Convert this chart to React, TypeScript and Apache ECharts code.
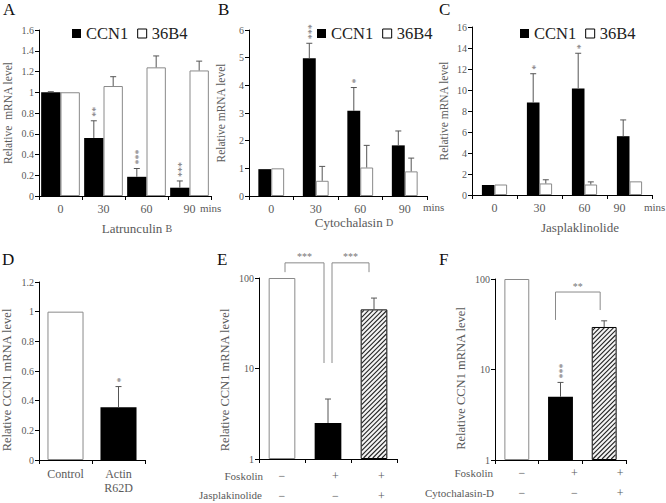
import React, { useEffect, useRef } from 'react';
import * as echarts from 'echarts';

const FONT = 'Liberation Serif';

// ---------- DATA ----------
const timeCats = ['0', '30', '60', '90'];

// Panel A – Latrunculin B
const aCCN1 = [1.0, 0.56, 0.185, 0.08];
const aCCN1Err = [1.005, 0.725, 0.265, 0.145];
const a36B4 = [1.0, 1.06, 1.24, 1.21];
const a36B4Err = [1.0, 1.15, 1.35, 1.3];
const aStars = ['', '**', '***', '***'];

// Panel B – Cytochalasin D
const bCCN1 = [0.97, 4.98, 3.08, 1.83];
const bCCN1Err = [0.97, 5.52, 3.92, 2.35];
const b36B4 = [1.0, 0.55, 1.03, 0.89];
const b36B4Err = [1.0, 1.07, 1.83, 1.37];
const bStars = ['', '***', '*', ''];

// Panel C – Jasplaklinolide
const cCCN1 = [0.95, 8.8, 10.15, 5.6];
const cCCN1Err = [0.95, 11.55, 13.5, 7.15];
const c36B4 = [1.0, 1.1, 1.0, 1.3];
const c36B4Err = [1.0, 1.45, 1.25, 1.3];
const cStars = ['', '*', '*', ''];

// Panel D – Actin R62D
const dCats = ['Control', 'Actin\nR62D'];
const dValues = [1.0, 0.355];
const dErr = [1.0, 0.495];
const dStars = ['', '*'];

// Panel E – Foskolin / Jasplakinolide (log)
const eCats = ['control', 'foskolin', 'foskolin+jasplakinolide'];
const eValues = [100, 2.5, 45];
const eErr = [100, 4.6, 60];
const eStars = ['', '', ''];
const eHatched = [false, false, true];
const eFoskolin = ['\u2212', '+', '+'];
const eJasp = ['\u2212', '\u2212', '+'];
const eBrackets = [
  { from: 0, fromVal: 116, to: 1, toVal: 11.5, top: 147, label: '***' },
  { from: 1, fromVal: 11.5, to: 2, toVal: 116, top: 147, label: '***' },
];

// Panel F – Foskolin / Cytochalasin-D (log)
const fCats = ['control', 'foskolin', 'foskolin+cytochalasin'];
const fValues = [100, 5.0, 29.5];
const fErr = [100, 7.2, 34.5];
const fStars = ['', '***', ''];
const fHatched = [false, false, true];
const fFoskolin = ['\u2212', '+', '+'];
const fCyto = ['\u2212', '\u2212', '+'];
const fBrackets = [{ from: 1, fromVal: 35.3, to: 2, toVal: 45.4, top: 71.8, label: '**' }];

// ---------- LAYOUT ----------
const GRIDS = [
  { left: 39, top: 30, width: 172, height: 166 },
  { left: 249, top: 30, width: 178, height: 166 },
  { left: 472, top: 27, width: 180, height: 168 },
  { left: 39, top: 282, width: 106, height: 178 },
  { left: 259, top: 278, width: 138, height: 181 },
  { left: 495, top: 279, width: 131, height: 181 },
];
const BAR_PCT = [0.45, 0.29, 0.28, 0.68, 0.58, 0.57];
const E_NUDGE = [[3, -4], [4, -5]];
const F_NUDGE = [[-5, -4]];
const E_SIGN_PAD = [0, 15, 15];
const F_SIGN_PAD = [10, 28, 32];
const HATCH_STEP = 4.6;

const TXT = '#5a5a5a';
const STAR = '#777';

function errSeries(gi: number, vals: number[], errs: number[], stars: string[], shift: number) {
  const pct = BAR_PCT[gi];
  return {
    type: 'custom',
    xAxisIndex: gi,
    yAxisIndex: gi,
    silent: true,
    z: 5,
    clip: false,
    data: vals.map((v, i) => [i, v, errs[i]]),
    encode: { x: 0, y: [1, 2] },
    renderItem: (params: any, api: any) => {
      const i = api.value(0);
      const v = api.value(1);
      const e = api.value(2);
      const base = api.coord([i, v]);
      const band = api.size([1, 0], [i, v])[0];
      const x = base[0] + shift * band * pct;
      const yv = base[1];
      const ye = api.coord([i, e])[1];
      const children: any[] = [];
      if (ye < yv - 0.5) {
        children.push({ type: 'line', shape: { x1: x, y1: yv, x2: x, y2: ye }, style: { stroke: '#555', lineWidth: 1 } });
        children.push({ type: 'line', shape: { x1: x - 3, y1: ye, x2: x + 3, y2: ye }, style: { stroke: '#555', lineWidth: 1 } });
      }
      const s = stars[params.dataIndex];
      if (s) {
        const len = s.length * 5;
        children.push({
          type: 'text',
          x: x + 2,
          y: ye - 4 - len / 2,
          rotation: Math.PI / 2,
          style: {
            text: s,
            fill: STAR,
            font: `10px ${FONT}`,
            textAlign: 'center',
            textVerticalAlign: 'middle',
            align: 'center',
            verticalAlign: 'middle',
          },
        });
      }
      return { type: 'group', children };
    },
  };
}

// diagonal "/" hatching drawn inside the hatched bars
function hatchSeries(gi: number, vals: number[], hatched: boolean[], minVal: number) {
  const pct = BAR_PCT[gi];
  return {
    type: 'custom',
    xAxisIndex: gi,
    yAxisIndex: gi,
    silent: true,
    z: 4,
    clip: false,
    data: vals.map((v, i) => [i, v, minVal]),
    encode: { x: 0, y: [1, 2] },
    renderItem: (params: any, api: any) => {
      if (!hatched[params.dataIndex]) return { type: 'group', children: [] };
      const i = api.value(0);
      const top = api.coord([i, api.value(1)]);
      const bottom = api.coord([i, api.value(2)]);
      const band = api.size([1, 0], [i, api.value(1)])[0];
      const w = band * pct;
      const x0 = top[0] - w / 2 + 1;
      const x1 = top[0] + w / 2 - 1;
      const yT = top[1] + 1;
      const yB = bottom[1] - 1;
      const children: any[] = [];
      for (let c = x0 + yT + HATCH_STEP / 2; c < x1 + yB; c += HATCH_STEP) {
        const xa = Math.max(x0, c - yB);
        const xb = Math.min(x1, c - yT);
        if (xb <= xa) continue;
        children.push({
          type: 'line',
          shape: { x1: xa, y1: c - xa, x2: xb, y2: c - xb },
          style: { stroke: '#222', lineWidth: 1.1 },
        });
      }
      return { type: 'group', children };
    },
  };
}

function bracketSeries(gi: number, brackets: any[], nudge: number[][]) {
  return {
    type: 'custom',
    xAxisIndex: gi,
    yAxisIndex: gi,
    silent: true,
    z: 6,
    clip: false,
    data: brackets.map((b) => [b.from, b.fromVal, b.to, b.toVal, b.top]),
    encode: { x: [0, 2], y: [1, 3, 4] },
    renderItem: (params: any, api: any) => {
      const n = nudge[params.dataIndex];
      const top = api.value(4);
      const p1 = api.coord([api.value(0), api.value(1)]);
      const p2 = api.coord([api.value(2), api.value(3)]);
      const yTop = api.coord([api.value(0), top])[1];
      const x1 = p1[0] + n[0];
      const x2 = p2[0] + n[1];
      return {
        type: 'group',
        children: [
          {
            type: 'polyline',
            shape: { points: [[x1, p1[1]], [x1, yTop], [x2, yTop], [x2, p2[1]]] },
            style: { stroke: '#8a8a8a', lineWidth: 1, fill: 'none' },
          },
          {
            type: 'text',
            x: (x1 + x2) / 2,
            y: yTop - 6,
            style: {
              text: brackets[params.dataIndex].label,
              fill: STAR,
              font: `10px ${FONT}`,
              textAlign: 'center',
              textVerticalAlign: 'middle',
              align: 'center',
              verticalAlign: 'middle',
            },
          },
        ],
      };
    },
  };
}

function buildOption(): any {
  const axisText = { fontFamily: FONT, color: TXT };
  const mkX = (gi: number, data: string[], labelExtra: any = {}, extra: any = {}) => ({
    type: 'category',
    gridIndex: gi,
    data,
    axisLine: { show: true, onZero: false, lineStyle: { color: '#000', width: 1 } },
    axisTick: { show: true, length: 4, interval: 0, lineStyle: { color: '#000' } },
    axisLabel: { ...axisText, fontSize: 12, margin: 7, interval: 0, ...labelExtra },
    splitLine: { show: false },
    ...extra,
  });
  const mkY = (gi: number, extra: any) => ({
    gridIndex: gi,
    axisLine: { show: true, lineStyle: { color: '#000', width: 1 } },
    axisTick: { show: true, length: 4, lineStyle: { color: '#000' } },
    axisLabel: { ...axisText, fontSize: 10, margin: 5 },
    splitLine: { show: false },
    minorTick: { show: false },
    minorSplitLine: { show: false },
    nameLocation: 'middle',
    nameRotate: 90,
    ...extra,
  });
  const xName = (name: string, gap: number, padLeft: number) => ({
    name,
    nameLocation: 'middle',
    nameGap: gap,
    nameTextStyle: { ...axisText, fontSize: 13, padding: [0, 0, 0, padLeft], rich: { s: { ...axisText, fontSize: 10 } } },
  });
  const signRich = (pads: number[]) => {
    const r: any = {};
    pads.forEach((p, i) => {
      r['p' + i] = { ...axisText, fontSize: 12, lineHeight: 20, padding: [0, 0, 0, p] };
    });
    return r;
  };

  const xAxis = [
    mkX(0, timeCats, {}, xName('Latrunculin {s|B}', 26, 24)),
    mkX(1, timeCats, {}, xName('Cytochalasin {s|D}', 16, 32)),
    mkX(
      2,
      timeCats,
      {
        formatter: (v: string, i: number) => (i === 3 ? '{o|' + v + '}' : v),
        rich: { o: { ...axisText, fontSize: 12, padding: [0, 20, 0, 0] } },
      },
      xName('Jasplaklinolide', 26, 36)
    ),
    mkX(3, dCats, { lineHeight: 14 }),
    mkX(4, eCats, {
      margin: 7,
      formatter: (_v: string, i: number) => `{p${i}|${eFoskolin[i]}}\n{p${i}|${eJasp[i]}}`,
      rich: signRich(E_SIGN_PAD),
    }),
    mkX(5, fCats, {
      margin: 3,
      formatter: (_v: string, i: number) => `{p${i}|${fFoskolin[i]}}\n{p${i}|${fCyto[i]}}`,
      rich: signRich(F_SIGN_PAD),
    }),
  ];

  const yNameSmall = { ...axisText, fontSize: 11.5 };
  const yNameBig = (padRight: number) => ({ ...axisText, fontSize: 12.5, padding: [0, padRight, 0, 0] });
  const yAxis = [
    mkY(0, { type: 'value', min: 0, max: 1.6, interval: 0.2, name: 'Relative  mRNA level', nameGap: 25, nameTextStyle: yNameSmall }),
    mkY(1, { type: 'value', min: 0, max: 6, interval: 1, name: 'Relative mRNA level', nameGap: 22, nameTextStyle: yNameSmall }),
    mkY(2, { type: 'value', min: 0, max: 16, interval: 2, name: 'Relative mRNA level', nameGap: 22, nameTextStyle: yNameSmall }),
    mkY(3, { type: 'value', min: 0, max: 1.2, interval: 0.2, name: 'Relative CCN1 mRNA level', nameGap: 26, nameTextStyle: yNameBig(18) }),
    mkY(4, { type: 'log', logBase: 10, min: 1, max: 100, name: 'Relative CCN1 mRNA level', nameGap: 28, nameTextStyle: yNameBig(23) }),
    mkY(5, { type: 'log', logBase: 10, min: 1, max: 100, name: 'Relative CCN1 mRNA level', nameGap: 28, nameTextStyle: yNameBig(18) }),
  ];

  const blackStyle = { color: '#000', borderColor: '#000', borderWidth: 0 };
  const whiteStyle = { color: '#fff', borderColor: '#8a8a8a', borderWidth: 1 };
  const hatchStyle = { color: '#f4f4f4', borderColor: '#000', borderWidth: 1 };

  const pairBars = (gi: number, ccn1: number[], b4: number[]) => [
    {
      type: 'bar', name: 'CCN1', xAxisIndex: gi, yAxisIndex: gi, data: ccn1,
      barWidth: BAR_PCT[gi] * 100 + '%', barGap: '0%', itemStyle: blackStyle, silent: true,
    },
    {
      type: 'bar', name: '36B4', xAxisIndex: gi, yAxisIndex: gi, data: b4,
      barWidth: BAR_PCT[gi] * 100 + '%', barGap: '0%', itemStyle: whiteStyle, silent: true,
    },
  ];
  const singleBars = (gi: number, name: string, vals: number[], styles: any[]) => ({
    type: 'bar', name, xAxisIndex: gi, yAxisIndex: gi,
    barWidth: BAR_PCT[gi] * 100 + '%', silent: true,
    data: vals.map((v, i) => ({ value: v, itemStyle: styles[i] })),
  });

  const series: any[] = [
    ...pairBars(0, aCCN1, a36B4),
    errSeries(0, aCCN1, aCCN1Err, aStars, -0.5),
    errSeries(0, a36B4, a36B4Err, ['', '', '', ''], 0.5),
    ...pairBars(1, bCCN1, b36B4),
    errSeries(1, bCCN1, bCCN1Err, bStars, -0.5),
    errSeries(1, b36B4, b36B4Err, ['', '', '', ''], 0.5),
    ...pairBars(2, cCCN1, c36B4),
    errSeries(2, cCCN1, cCCN1Err, cStars, -0.5),
    errSeries(2, c36B4, c36B4Err, ['', '', '', ''], 0.5),
    singleBars(3, 'D', dValues, [whiteStyle, blackStyle]),
    errSeries(3, dValues, dErr, dStars, 0),
    singleBars(4, 'E', eValues, [whiteStyle, blackStyle, hatchStyle]),
    hatchSeries(4, eValues, eHatched, 1),
    errSeries(4, eValues, eErr, eStars, 0),
    bracketSeries(4, eBrackets, E_NUDGE),
    singleBars(5, 'F', fValues, [whiteStyle, blackStyle, hatchStyle]),
    hatchSeries(5, fValues, fHatched, 1),
    errSeries(5, fValues, fErr, fStars, 0),
    bracketSeries(5, fBrackets, F_NUDGE),
  ];

  const legendBase = (left: number) => ({
    left,
    top: 20,
    orient: 'horizontal',
    icon: 'rect',
    itemWidth: 9,
    itemHeight: 9,
    itemGap: 9,
    selectedMode: false,
    textStyle: { fontFamily: FONT, fontSize: 16.5, color: '#222' },
    data: [
      { name: 'CCN1', itemStyle: { color: '#000', borderColor: '#000', borderWidth: 0 } },
      { name: '36B4', itemStyle: { color: '#fff', borderColor: '#000', borderWidth: 1 } },
    ],
  });

  const letter = (t: string, x: number, y: number) => ({
    type: 'text', x, y, silent: true,
    style: { text: t, font: `17px ${FONT}`, fill: '#111', textAlign: 'left', textVerticalAlign: 'top' },
  });
  const note = (t: string, x: number, y: number, align: string) => ({
    type: 'text', x, y, silent: true,
    style: { text: t, font: `11px ${FONT}`, fill: TXT, textAlign: align, textVerticalAlign: 'middle' },
  });

  return {
    animation: false,
    backgroundColor: '#fff',
    textStyle: { fontFamily: FONT },
    grid: GRIDS.map((g) => ({ ...g, containLabel: false, outerBoundsMode: 'none' })),
    xAxis,
    yAxis,
    legend: [legendBase(67), legendBase(312), legendBase(515)],
    series,
    graphic: [
      letter('A', 3, 1),
      letter('B', 218, 1),
      letter('C', 439, 1),
      letter('D', 2, 251),
      letter('E', 217, 251),
      letter('F', 439, 251),
      note('mins', 200, 208, 'left'),
      note('mins', 423, 207, 'left'),
      note('mins', 644, 207, 'left'),
      note('Foskolin', 263, 476, 'right'),
      note('Jasplakinolide', 262, 495, 'right'),
      note('Foskolin', 493, 473, 'right'),
      note('Cytochalasin-D', 494, 493, 'right'),
    ],
  };
}

const App = () => {
  const ref = useRef<HTMLDivElement>(null);
  useEffect(() => {
    const chart = echarts.init(ref.current as HTMLDivElement, null, { renderer: 'svg' });
    chart.setOption(buildOption());
    return () => chart.dispose();
  }, []);
  return (
    <div
      ref={ref}
      style={{ position: 'fixed', left: 0, top: 0, width: 666, height: 503, background: '#fff' }}
    />
  );
};

export default App;
